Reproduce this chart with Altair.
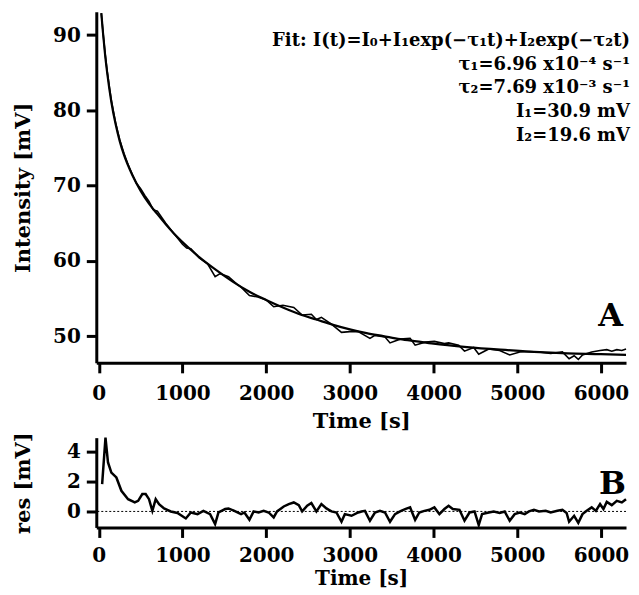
import altair as alt
import pandas as pd

# ---- data ----
fit_t = [30, 50, 75, 100, 150, 200, 250, 300, 400, 500, 600, 700, 800, 900, 1000,
         1200, 1400, 1600, 1800, 2000, 2200, 2400, 2600, 2800, 3000, 3200, 3400,
         3600, 3800, 4000, 4400, 4800, 5200, 5600, 6000, 6300]
fit_v = [92.9, 90.3, 87.4, 85.0, 81.1, 78.2, 75.9, 74.1, 71.4, 69.3, 67.6, 66.2, 64.85,
         63.6, 62.5, 60.5, 58.8, 57.25, 55.9, 54.8, 53.8, 52.9, 52.2, 51.5, 50.9, 50.4,
         50.0, 49.6, 49.3, 49.0, 48.55, 48.2, 47.9, 47.7, 47.6, 47.5]

data_t = [30, 50, 75, 100, 150, 200, 250, 300, 350, 400, 450, 500, 550, 600, 650, 700,
          750, 800, 900, 1000, 1050, 1100, 1200, 1300, 1390, 1450, 1550, 1650, 1700,
          1800, 1900, 2000, 2090, 2200, 2330, 2430, 2540, 2600, 2660, 2780, 2900, 3000,
          3100, 3240, 3300, 3420, 3480, 3600, 3720, 3780, 3900, 4010, 4130, 4180, 4300,
          4370, 4480, 4540, 4660, 4790, 4910, 5030, 5140, 5260, 5400, 5540, 5620, 5680,
          5730, 5780, 5890, 5990, 6070, 6130, 6190, 6250, 6300]
data_v = [92.9, 90.4, 87.6, 85.2, 81.3, 78.4, 76.1, 74.3, 72.8, 71.5, 70.3, 69.6, 68.7,
          67.9, 66.8, 66.6, 65.8, 65.0, 63.6, 62.2, 61.7, 61.6, 60.4, 59.6, 57.9, 58.3,
          57.9, 56.9, 56.5, 55.4, 55.2, 54.8, 53.9, 54.1, 53.8, 52.8, 52.9, 52.2, 52.5,
          51.6, 50.5, 50.6, 50.6, 49.7, 50.1, 49.9, 49.1, 49.6, 49.7, 48.8, 49.2, 49.3,
          49.0, 49.1, 48.8, 48.0, 48.5, 47.6, 48.3, 48.1, 47.5, 47.9, 47.95, 47.9, 47.7,
          47.9, 47.0, 47.4, 46.9, 47.5, 47.9, 48.1, 48.2, 48.0, 48.2, 48.1, 48.3]

res_t = [40, 80, 110, 150, 210, 270, 350, 430, 470, 520, 560, 600, 640, 680, 720, 780,
         860, 940, 1040, 1100, 1180, 1250, 1330, 1390, 1430, 1510, 1550, 1620, 1700,
         1740, 1800, 1850, 1910, 1970, 2030, 2090, 2130, 2210, 2270, 2330, 2390, 2430,
         2490, 2540, 2600, 2660, 2720, 2780, 2840, 2900, 2940, 3020, 3100, 3140, 3180,
         3240, 3300, 3360, 3420, 3480, 3540, 3600, 3660, 3720, 3780, 3830, 3890, 3950,
         4010, 4070, 4130, 4180, 4230, 4310, 4370, 4430, 4490, 4540, 4580, 4660, 4720,
         4790, 4850, 4910, 4970, 5030, 5090, 5140, 5200, 5260, 5340, 5400, 5480, 5540,
         5590, 5620, 5680, 5730, 5780, 5830, 5890, 5940, 5990, 6030, 6070, 6130, 6190,
         6250, 6300]
res_v = [1.82, 4.93, 3.27, 2.6, 2.27, 1.38, 0.82, 0.6, 0.71, 1.16, 1.16, 0.82, 0.04, 0.82,
         0.49, 0.2, 0.0, -0.1, -0.47, -0.07, -0.18, 0.04, -0.18, -0.84, -0.07, 0.16, 0.2,
         0.04, -0.18, -0.07, -0.56, 0.0, -0.07, 0.04, -0.07, -0.4, 0.0, 0.33, 0.49, 0.6,
         0.42, 0.0, 0.38, 0.56, 0.0, 0.49, 0.2, 0.0, -0.07, -0.69, -0.18, -0.29, -0.07,
         0.0, 0.04, -0.62, -0.07, 0.04, -0.07, -0.69, -0.18, 0.0, 0.16, 0.27, -0.56,
         -0.07, 0.04, 0.11, 0.27, -0.18, 0.16, 0.38, 0.16, 0.11, -0.62, -0.07, 0.0, -0.91,
         -0.18, -0.07, 0.0, -0.1, 0.0, -0.62, -0.18, -0.07, -0.18, 0.0, 0.11, 0.0, 0.04,
         -0.07, 0.04, 0.11, -0.1, -0.69, -0.29, -0.76, -0.18, 0.04, 0.27, 0.04, 0.49, 0.16,
         0.64, 0.42, 0.71, 0.6, 0.82]

x_ticks = [0, 1000, 2000, 3000, 4000, 5000, 6000]
top_ticks = [50, 60, 70, 80, 90]
bot_ticks = [0, 2, 4]

fit_lines = ["Fit: I(t)=I₀+I₁exp(−τ₁t)+I₂exp(−τ₂t)",
             "τ₁=6.96 x10⁻⁴ s⁻¹",
             "τ₂=7.69 x10⁻³ s⁻¹",
             "I₁=30.9 mV",
             "I₂=19.6 mV"]

assert len(fit_t) == len(fit_v)
assert len(data_t) == len(data_v)
assert len(res_t) == len(res_v)

FONT = "DejaVu Serif"
W = 531

fit_df = pd.DataFrame({"t": fit_t, "v": fit_v})
data_df = pd.DataFrame({"t": data_t, "v": data_v})
res_df = pd.DataFrame({"t": res_t, "v": res_v})
one = pd.DataFrame({"a": [0]})

xscale = alt.Scale(domain=[-30, 6300], nice=False, zero=False)


def xax(title_y, label_pad, title_size):
    return alt.Axis(values=x_ticks, format="d", title="Time [s]", titleY=title_y,
                    titleBaseline="middle", labelPadding=label_pad,
                    titleFontSize=title_size)


top_x = alt.X("t:Q", scale=xscale, axis=xax(59, 11, 21))
top_y = alt.Y("v:Q", scale=alt.Scale(domain=[46.45, 93.1], nice=False, zero=False),
              axis=alt.Axis(values=top_ticks, title="Intensity [mV]", titleX=-73,
                            titleBaseline="middle"))

fit_line = alt.Chart(fit_df).mark_line(color="black", strokeWidth=2.2, interpolate="monotone").encode(
    x=top_x, y=top_y)
data_line = alt.Chart(data_df).mark_line(color="black", strokeWidth=1.6).encode(
    x=top_x, y=top_y)

fit_text = alt.Chart(one).mark_text(
    text=fit_lines, align="right", baseline="top", font=FONT, fontSize=18,
    fontWeight="bold", lineHeight=24, color="black"
).encode(x=alt.value(W + 4), y=alt.value(20))

label_a = alt.Chart(one).mark_text(
    text="A", align="center", baseline="middle", font=FONT, fontSize=32,
    fontWeight="bold", color="black"
).encode(x=alt.value(515.5), y=alt.value(305))

top = alt.layer(fit_line, data_line, fit_text, label_a).properties(width=W, height=352)

bot_x = alt.X("t:Q", scale=xscale, axis=xax(51, 8, 20))
bot_y = alt.Y("v:Q", scale=alt.Scale(domain=[-1.07, 4.93], nice=False, zero=False),
              axis=alt.Axis(values=bot_ticks, title="res [mV]", titleX=-73,
                            titleBaseline="middle"))

zero_rule = alt.Chart(pd.DataFrame({"v": [0]})).mark_rule(
    color="black", strokeWidth=1, strokeDash=[2, 2]).encode(y=alt.Y("v:Q"))
res_line = alt.Chart(res_df).mark_line(color="black", strokeWidth=2.5).encode(
    x=bot_x, y=bot_y)
label_b = alt.Chart(one).mark_text(
    text="B", align="center", baseline="middle", font=FONT, fontSize=32,
    fontWeight="bold", color="black"
).encode(x=alt.value(517.5), y=alt.value(46))

bottom = alt.layer(zero_rule, res_line, label_b).properties(width=W, height=90)

chart = alt.vconcat(top, bottom, spacing=0).properties(
    padding={"left": 4.5, "top": 0, "right": 0, "bottom": 0}
).configure_view(stroke=None).configure_axis(
    grid=False,
    domainColor="black", domainWidth=3,
    tickColor="black", tickWidth=3, tickSize=10,
    labelFont=FONT, labelFontWeight="bold", labelFontSize=20, labelColor="black",
    labelPadding=6,
    titleFont=FONT, titleFontWeight="bold", titleFontSize=21, titleColor="black",
    labelFlush=False,
)

chart.save("out.html", embed_options={"renderer": "svg", "actions": False})
